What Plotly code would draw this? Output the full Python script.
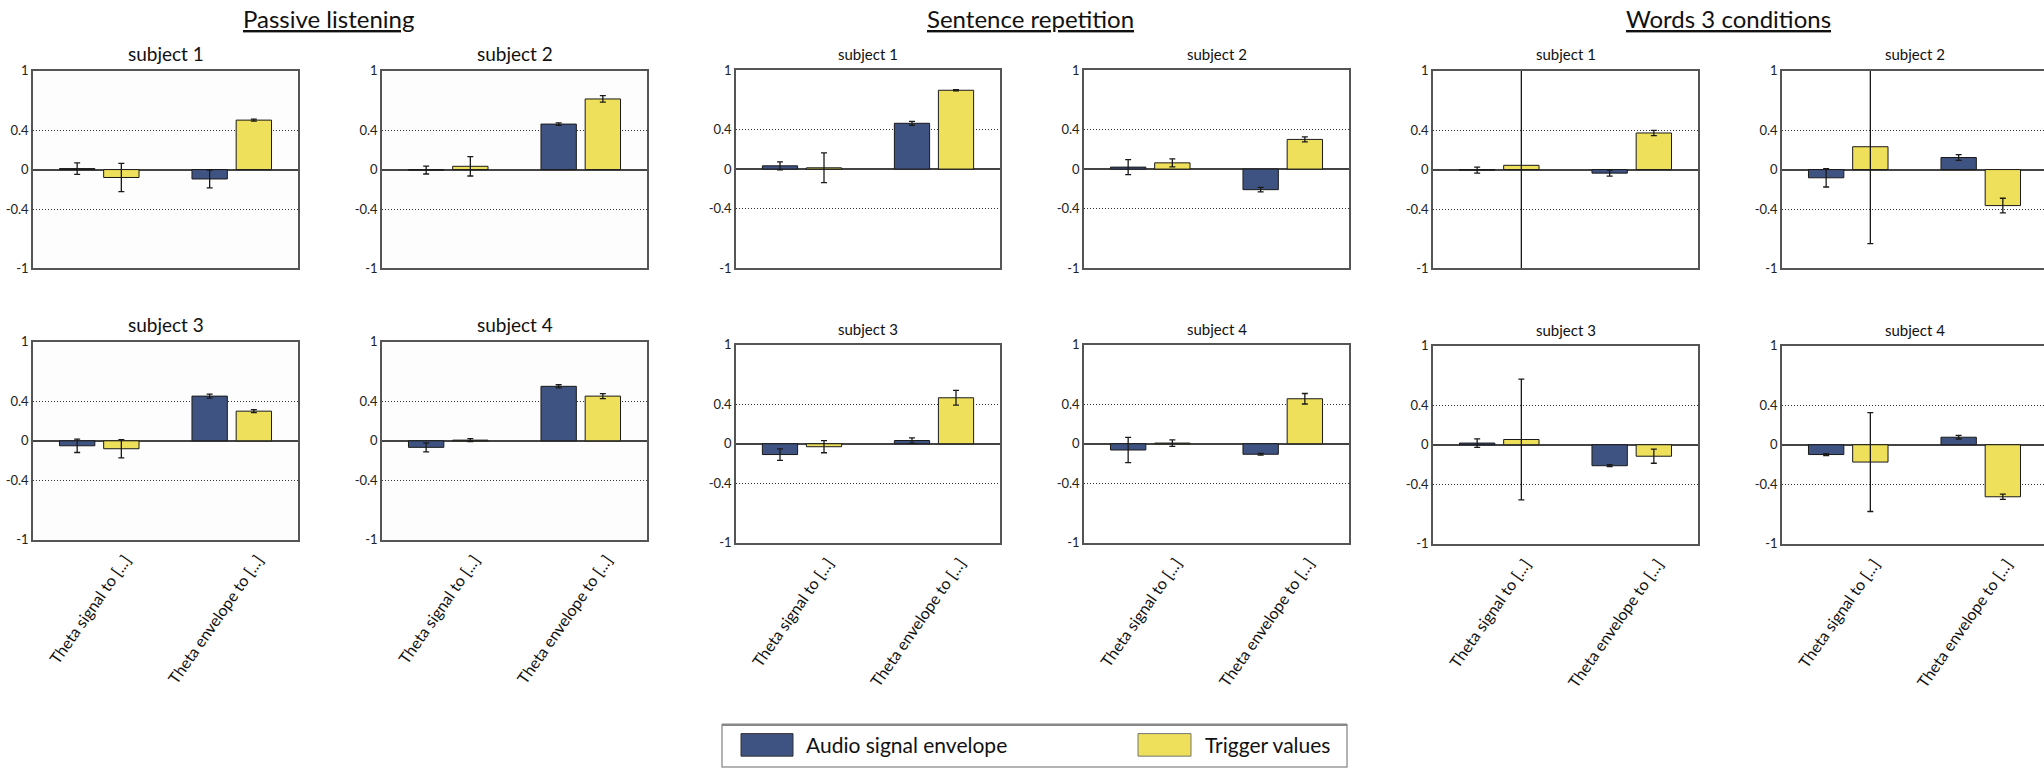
import plotly.graph_objects as go

W, H = 2044, 771

categories = ["Theta signal to [...]", "Theta envelope to [...]"]
groups = ["Passive listening", "Sentence repetition", "Words 3 conditions"]
subjects = ["subject 1", "subject 2", "subject 3", "subject 4"]
series_names = ["Audio signal envelope", "Trigger values"]
ytick_vals = [-1, -0.4, 0, 0.4, 1]
ytick_text = ["-1", "-0.4", "0", "0.4", "1"]

# values per subject: [Theta signal, Theta envelope]
passive_audio = [[0.01, -0.095], [-0.005, 0.46], [-0.05, 0.452], [-0.066, 0.551]]
passive_audio_err = [[0.058, 0.09], [0.04, 0.013], [0.068, 0.021], [0.045, 0.016]]
passive_trigger = [[-0.08, 0.50], [0.033, 0.714], [-0.08, 0.30], [0.007, 0.452]]
passive_trigger_err = [[0.142, 0.01], [0.098, 0.033], [0.092, 0.015], [0.016, 0.025]]

sentence_audio = [[0.033, 0.463], [0.02, -0.208], [-0.109, 0.033], [-0.063, -0.106]]
sentence_audio_err = [[0.04, 0.02], [0.076, 0.023], [0.058, 0.026], [0.127, 0.008]]
sentence_trigger = [[0.013, 0.797], [0.063, 0.30], [-0.03, 0.465], [0.007, 0.455]]
sentence_trigger_err = [[0.15, 0.005], [0.041, 0.025], [0.061, 0.074], [0.033, 0.053]]

words_audio = [[-0.005, -0.036], [-0.083, 0.122], [0.017, -0.212], [-0.099, 0.076]]
words_audio_err = [[0.03, 0.031], [0.093, 0.03], [0.043, 0.01], [0.01, 0.018]]
words_trigger = [[0.043, 0.37], [0.231, -0.364], [0.053, -0.116], [-0.175, -0.526]]
words_trigger_err = [[1.3, 0.026], [0.98, 0.074], [0.61, 0.071], [0.5, 0.026]]

audio_sets = [passive_audio, sentence_audio, words_audio]
audio_err_sets = [passive_audio_err, sentence_audio_err, words_audio_err]
trigger_sets = [passive_trigger, sentence_trigger, words_trigger]
trigger_err_sets = [passive_trigger_err, sentence_trigger_err, words_trigger_err]

BLUE = "#3f5382"
YELLOW = "#eee05a"
FONT = "Lato, 'Open Sans', sans-serif"

# ---- layout geometry (pixels) ----
col_x = [[(33, 298), (382, 647)], [(736, 1000), (1084, 1349)], [(1433, 1698), (1782, 2047)]]
row_y = [[(64, 266), (341, 543)], [(63.5, 265.5), (344, 546)], [(64, 266), (345, 547)]]
group_title_x = [328, 1030, 1728]
sub_title_y = [[46, 323], [47, 328], [47, 329]]
sub_title_size = [19, 15, 15]
panel_bg = ["#fdfdfd", "white", "white"]

fig = go.Figure()
layout = {}
annotations = []
shapes = []

k = 0
for g in range(3):
    for s in range(4):
        k += 1
        r, c = s // 2, s % 2
        x0, x1 = col_x[g][c]
        y0, y1 = row_y[g][r]
        full_w = x1 - x0
        xr = [-0.5, 1.5]
        if x1 > W:
            xr = [-0.5, -0.5 + 2.0 * (W - x0) / full_w]
            x1 = W
        xa = "x" if k == 1 else f"x{k}"
        ya = "y" if k == 1 else f"y{k}"
        fig.add_trace(go.Bar(
            x=categories, y=audio_sets[g][s], name=series_names[0],
            marker=dict(color=BLUE, line=dict(color="#1a1a1a", width=1)),
            error_y=dict(type="data", array=audio_err_sets[g][s], color="#1a1a1a", thickness=1.3, width=3),
            xaxis=xa, yaxis=ya, showlegend=False))
        fig.add_trace(go.Bar(
            x=categories, y=trigger_sets[g][s], name=series_names[1],
            marker=dict(color=YELLOW, line=dict(color="#1a1a1a", width=1)),
            error_y=dict(type="data", array=trigger_err_sets[g][s], color="#1a1a1a", thickness=1.3, width=3),
            xaxis=xa, yaxis=ya, showlegend=False))
        xkey = "xaxis" if k == 1 else f"xaxis{k}"
        ykey = "yaxis" if k == 1 else f"yaxis{k}"
        layout[xkey] = dict(
            domain=[x0 / W, x1 / W], anchor=ya, range=xr, type="category",
            showline=True, mirror=True, linecolor="#555", linewidth=1.5,
            ticks="", showgrid=False, zeroline=False, tickangle=-55,
            ticklabelshift=26, ticklabelstandoff=3,
            showticklabels=(r == 1),
            tickfont=dict(family=FONT, size=16, color="#111"))
        layout[ykey] = dict(
            domain=[1 - y1 / H, 1 - y0 / H], anchor=xa, range=[-1, 1],
            showline=True, mirror=(col_x[g][c][1] <= W), linecolor="#555", linewidth=1.5,
            ticks="", tickvals=ytick_vals, ticktext=ytick_text,
            showgrid=True, gridcolor="#333", griddash="1px,2px", gridwidth=1.2,
            zeroline=True, zerolinecolor="#444", zerolinewidth=1.5,
            tickfont=dict(family=FONT, size=13, color="#222"))
        if panel_bg[g] != "white":
            shapes.append(dict(type="rect", xref=f"{xa} domain", yref=f"{ya} domain",
                               x0=0, x1=1, y0=0, y1=1, fillcolor=panel_bg[g],
                               line=dict(width=0), layer="below"))
        annotations.append(dict(
            text=subjects[s], xref="paper", yref="paper",
            x=((col_x[g][c][0] + col_x[g][c][1]) / 2) / W, y=1 - sub_title_y[g][r] / H,
            xanchor="center", yanchor="middle", showarrow=False,
            font=dict(family=FONT, size=sub_title_size[g], color="#111")))

for g in range(3):
    annotations.append(dict(
        text=groups[g], xref="paper", yref="paper",
        x=group_title_x[g] / W, y=1 - 11 / H, xanchor="center", yanchor="middle",
        showarrow=False,
        font=dict(family=FONT, size=24, color="#111", lineposition="under")))

# legend (drawn as layout decoration)
shapes += [
    dict(type="rect", xref="paper", yref="paper", x0=722 / W, x1=1347 / W,
         y0=1 - 775 / H, y1=1 - 732 / H, line=dict(color="#9a9a9a", width=1.5), fillcolor="white", layer="below"),
    dict(type="line", xref="paper", yref="paper", x0=722 / W, x1=1347 / W,
         y0=1 - 732 / H, y1=1 - 732 / H, line=dict(color="#888", width=2.5)),
    dict(type="rect", xref="paper", yref="paper", x0=741 / W, x1=793 / W,
         y0=1 - 764 / H, y1=1 - 741 / H, line=dict(color="#333", width=1), fillcolor=BLUE),
    dict(type="rect", xref="paper", yref="paper", x0=1138 / W, x1=1191 / W,
         y0=1 - 764 / H, y1=1 - 741 / H, line=dict(color="#777", width=1), fillcolor=YELLOW),
]
annotations.append(dict(text=series_names[0], xref="paper", yref="paper", x=804 / W, y=1 - 752 / H,
                        xanchor="left", yanchor="middle", showarrow=False,
                        font=dict(family=FONT, size=21, color="#111")))
annotations.append(dict(text=series_names[1], xref="paper", yref="paper", x=1203 / W, y=1 - 752 / H,
                        xanchor="left", yanchor="middle", showarrow=False,
                        font=dict(family=FONT, size=21, color="#111")))

fig.update_layout(
    width=W, height=H, margin=dict(l=0, r=0, t=0, b=0),
    paper_bgcolor="white", plot_bgcolor="white",
    barmode="group", bargap=0.333, bargroupgap=0.2,
    annotations=annotations, shapes=shapes, showlegend=False,
    **layout)

fig.write_html("out.html", config={"displayModeBar": False},
               post_script="document.body.style.margin='0';document.body.style.overflow='hidden';")
